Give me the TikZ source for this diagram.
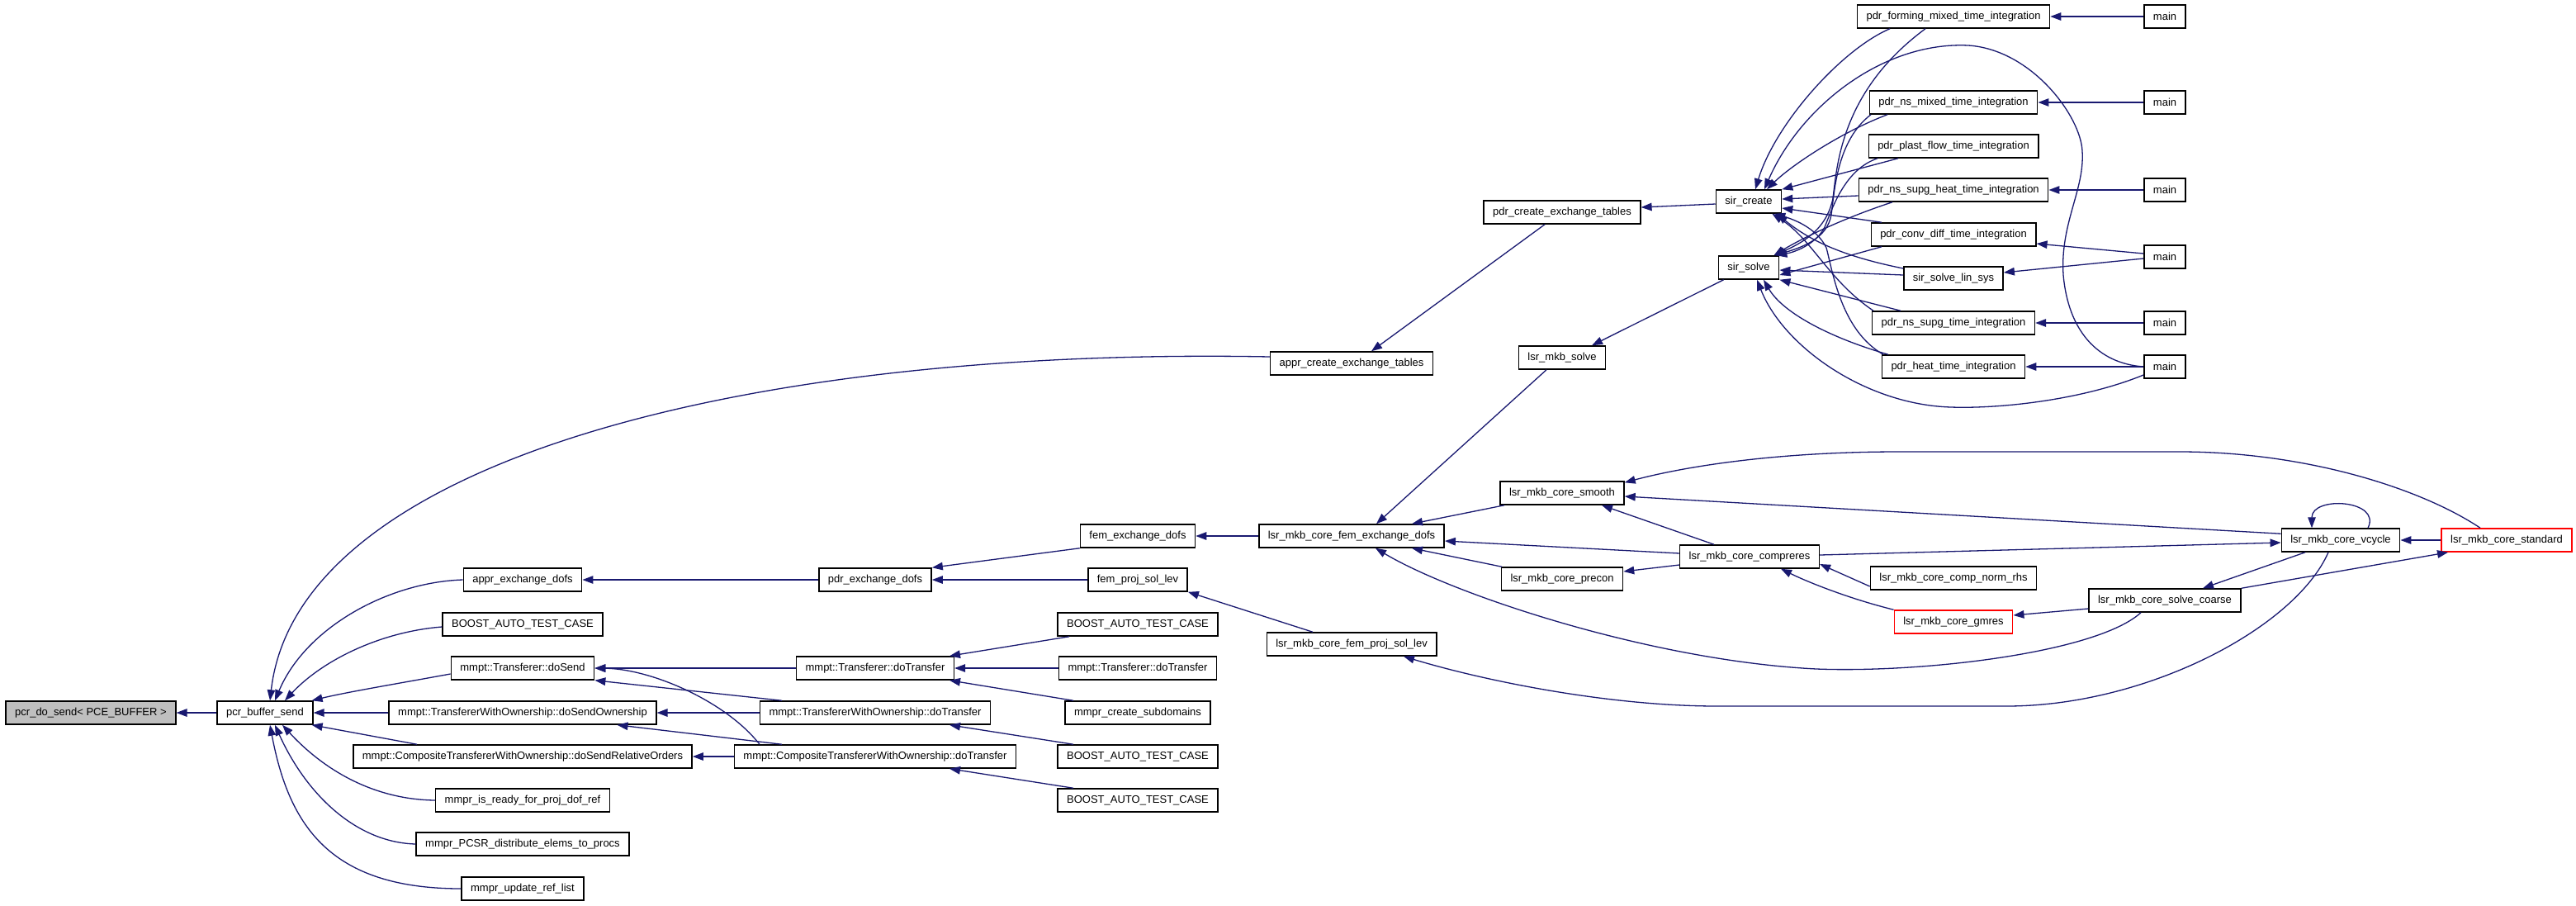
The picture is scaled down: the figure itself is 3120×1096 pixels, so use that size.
\documentclass[tikz,border=0pt]{standalone}
\usepackage{fontspec}
\setmainfont{Liberation Sans}
\usetikzlibrary{arrows.meta}

\definecolor{callblue}{HTML}{191970}
\definecolor{rootgrey}{HTML}{BFBFBF}

\begin{document}
\begin{tikzpicture}[x=1pt, y=-1pt,
        fn/.style={draw=black, fill=white, line width=1.5pt, inner xsep=11pt, inner ysep=0pt, minimum height=28pt, font=\fontsize{13pt}{15pt}\selectfont},
        fnroot/.style={fn, fill=rootgrey},
        fnred/.style={fn, draw=red},
        calls/.style={draw=callblue, line width=1.3pt, -{Triangle[length=13pt,width=9.5pt]}}]
        \path[fill=white] (0,0) rectangle (3120,1096);

        \node[fnroot] (root) at (110,863) {pcr\_do\_send< PCE\_BUFFER >};
        \node[fn] (bufsend) at (321,863) {pcr\_buffer\_send};

        \node[fn] (apprexch) at (633,702) {appr\_exchange\_dofs};
        \node[fn] (boosta) at (633,756) {BOOST\_AUTO\_TEST\_CASE};
        \node[fn] (dosend) at (633,809) {mmpt::Transferer::doSend};
        \node[fn] (dosendown) at (633,863) {mmpt::TransfererWithOwnership::doSendOwnership};
        \node[fn] (dosendrel) at (633,916) {mmpt::CompositeTransfererWithOwnership::doSendRelativeOrders};
        \node[fn] (isready) at (633,969) {mmpr\_is\_ready\_for\_proj\_dof\_ref};
        \node[fn] (pcsr) at (633,1022) {mmpr\_PCSR\_distribute\_elems\_to\_procs};
        \node[fn] (updref) at (633,1076) {mmpr\_update\_ref\_list};

        \node[fn] (pdrexch) at (1060,702) {pdr\_exchange\_dofs};
        \node[fn] (dotrans) at (1060,809) {mmpt::Transferer::doTransfer};
        \node[fn] (dotransown) at (1060,863) {mmpt::TransfererWithOwnership::doTransfer};
        \node[fn] (dotranscomp) at (1060,916) {mmpt::CompositeTransfererWithOwnership::doTransfer};

        \node[fn] (femexch) at (1378,649) {fem\_exchange\_dofs};
        \node[fn] (femproj) at (1378,702) {fem\_proj\_sol\_lev};
        \node[fn] (boostb) at (1378,756) {BOOST\_AUTO\_TEST\_CASE};
        \node[fn] (dotransb) at (1378,809) {mmpt::Transferer::doTransfer};
        \node[fn] (subdom) at (1378,863) {mmpr\_create\_subdomains};
        \node[fn] (boostc) at (1378,916) {BOOST\_AUTO\_TEST\_CASE};
        \node[fn] (boostd) at (1378,969) {BOOST\_AUTO\_TEST\_CASE};

        \node[fn] (apprtab) at (1637,440) {appr\_create\_exchange\_tables};
        \node[fn] (lsrexch) at (1637,649) {lsr\_mkb\_core\_fem\_exchange\_dofs};
        \node[fn] (lsrproj) at (1637,780) {lsr\_mkb\_core\_fem\_proj\_sol\_lev};

        \node[fn] (pdrtab) at (1892,257) {pdr\_create\_exchange\_tables};
        \node[fn] (lsrsolve) at (1892,433) {lsr\_mkb\_solve};
        \node[fn] (smooth) at (1892,597) {lsr\_mkb\_core\_smooth};
        \node[fn] (precon) at (1892,701) {lsr\_mkb\_core\_precon};

        \node[fn] (sircreate) at (2118,244) {sir\_create};
        \node[fn] (sirsolve) at (2118,324) {sir\_solve};
        \node[fn] (compreres) at (2119,674) {lsr\_mkb\_core\_compreres};

        \node[fn] (forming) at (2366,20) {pdr\_forming\_mixed\_time\_integration};
        \node[fn] (nsmixed) at (2366,124) {pdr\_ns\_mixed\_time\_integration};
        \node[fn] (plast) at (2366,177) {pdr\_plast\_flow\_time\_integration};
        \node[fn] (nsheat) at (2366,230) {pdr\_ns\_supg\_heat\_time\_integration};
        \node[fn] (convdiff) at (2366,284) {pdr\_conv\_diff\_time\_integration};
        \node[fn] (linsys) at (2366,337) {sir\_solve\_lin\_sys};
        \node[fn] (nssupg) at (2366,391) {pdr\_ns\_supg\_time\_integration};
        \node[fn] (heat) at (2366,444) {pdr\_heat\_time\_integration};
        \node[fn] (normrhs) at (2366,700) {lsr\_mkb\_core\_comp\_norm\_rhs};
        \node[fnred] (gmres) at (2366,753) {lsr\_mkb\_core\_gmres};

        \node[fn] (maina) at (2622,20) {main};
        \node[fn] (mainb) at (2622,124) {main};
        \node[fn] (mainc) at (2622,230) {main};
        \node[fn] (maind) at (2622,311) {main};
        \node[fn] (maine) at (2622,391) {main};
        \node[fn] (mainf) at (2622,444) {main};
        \node[fn] (coarse) at (2622,727) {lsr\_mkb\_core\_solve\_coarse};

        \node[fn] (vcycle) at (2835,654) {lsr\_mkb\_core\_vcycle};
        \node[fnred] (standard) at (3036,654) {lsr\_mkb\_core\_standard};

        \draw[calls] (bufsend) -- (root);
        \draw[calls] ([yshift=8pt]apprtab.west) .. controls (900,420) and (360,560) .. ([xshift=6pt]bufsend.north);
        \draw[calls] (apprexch.west) .. controls (470,705) and (370,760) .. ([xshift=12pt]bufsend.north);
        \draw[calls] ([yshift=-3pt]boosta.west) .. controls (460,765) and (390,800) .. ([xshift=24pt]bufsend.north);
        \draw[calls] ([yshift=-7pt]dosend.west) .. controls (480,828) and (420,838) .. ([xshift=-2pt]bufsend.north east);
        \draw[calls] (dosendown) -- (bufsend);
        \draw[calls] ([xshift=-128pt]dosendrel.north) -- ([xshift=-2pt]bufsend.south east);
        \draw[calls] (isready.west) .. controls (450,968) and (390,930) .. ([xshift=21pt]bufsend.south);
        \draw[calls] (pcsr.west) .. controls (430,1020) and (370,960) .. ([xshift=12pt]bufsend.south);
        \draw[calls] (updref.west) .. controls (400,1076) and (350,1000) .. ([xshift=6pt]bufsend.south);

        \draw[calls] (pdrexch) -- (apprexch);
        \draw[calls] (femexch.south west) -- (pdrexch.north east);
        \draw[calls] (femproj) -- (pdrexch);
        \draw[calls] (lsrexch) -- (femexch);
        \draw[calls] ([xshift=-47pt]lsrproj.north) -- (femproj.south east);

        \draw[calls] (dotrans) -- (dosend);
        \draw[calls] ([xshift=-113pt]dotransown.north) -- (dosend.south east);
        \draw[calls] (dotransown) -- (dosendown);
        \draw[calls] ([xshift=-113pt]dotranscomp.north) -- ([xshift=-48pt]dosendown.south east);
        \draw[calls] ([xshift=-140pt]dotranscomp.north) .. controls (880,850) and (790,810) .. (dosend.east);
        \draw[calls] (dotranscomp) -- (dosendrel);
        \draw[calls] ([xshift=-83pt]boostb.south) -- ([xshift=90pt]dotrans.north);
        \draw[calls] (dotransb) -- (dotrans);
        \draw[calls] ([xshift=-78pt]subdom.north) -- ([xshift=90pt]dotrans.south);
        \draw[calls] ([xshift=-78pt]boostc.north) -- ([xshift=90pt]dotransown.south);
        \draw[calls] ([xshift=-78pt]boostd.north) -- ([xshift=90pt]dotranscomp.south);

        \draw[calls] ([xshift=-21pt]pdrtab.south) -- ([xshift=24pt]apprtab.north);
        \draw[calls] ([yshift=-3pt]sircreate.west) -- ([yshift=6pt]pdrtab.east);
        \draw[calls] ([xshift=7pt]sirsolve.south west) -- ([xshift=36pt]lsrsolve.north);
        \draw[calls] ([xshift=-19pt]lsrsolve.south) -- ([xshift=30pt]lsrexch.north);
        \draw[calls] ([xshift=-70pt]smooth.south) -- ([xshift=73pt]lsrexch.north);
        \draw[calls] ([xshift=-73pt]precon.north) -- ([xshift=73pt]lsrexch.south);
        \draw[calls] ([yshift=4pt]compreres.west) -- ([yshift=-6pt]lsrexch.east);
        \draw[calls] ([yshift=-10pt]compreres.west) -- ([yshift=9pt]precon.east);
        \draw[calls] ([xshift=-43pt]compreres.north) -- ([xshift=48pt]smooth.south);
        \draw[calls] ([yshift=2pt]compreres.east) -- ([yshift=-3pt]vcycle.west);
        \draw[calls] ([yshift=-10pt]normrhs.west) -- ([yshift=-9pt]compreres.east);
        \draw[calls] (gmres.north west) .. controls (2240,725) and (2190,705) .. ([xshift=38pt]compreres.south);
        \draw[calls] ([yshift=-10pt]coarse.west) -- ([yshift=8pt]gmres.east);
        \draw[calls] ([yshift=-7pt]vcycle.north west) -- ([yshift=-4pt]smooth.east);
        \draw[calls] ([xshift=-43pt]vcycle.south) -- ([xshift=46pt]coarse.north);
        \draw[calls] (coarse.north east) -- ([xshift=-71pt]standard.south);
        \draw[calls] (standard) -- (vcycle);
        \draw[calls] ([xshift=33pt]vcycle.north) .. controls (2885,605) and (2800,600) .. ([xshift=-35pt]vcycle.north);
        \draw[calls] ([xshift=-32pt]standard.north) .. controls (2930,590) and (2790,547) .. (2640,547) -- (2300,547) .. controls (2150,547) and (2040,565) .. ([yshift=-2pt]smooth.north east);
        \draw[calls] ([xshift=-15pt]vcycle.south) .. controls (2780,760) and (2600,855) .. (2430,855) -- (2080,855) .. controls (1950,855) and (1800,825) .. ([xshift=63pt]lsrproj.south);
        \draw[calls] ([xshift=-29pt]coarse.south) .. controls (2540,790) and (2330,815) .. (2200,810) .. controls (2000,800) and (1760,720) .. ([xshift=29pt]lsrexch.south);

        \draw[calls] (maina) -- (forming);
        \draw[calls] (mainb) -- (nsmixed);
        \draw[calls] (mainc) -- (nsheat);
        \draw[calls] ([yshift=4pt]maind.west) -- ([yshift=-11pt]convdiff.east);
        \draw[calls] ([yshift=-2pt]maind.west) -- ([yshift=7pt]linsys.east);
        \draw[calls] (maine) -- (nssupg);
        \draw[calls] (mainf) -- (heat);
        \draw[calls] (mainf.west) .. controls (2540,440) and (2505,400) .. (2499,333) .. controls (2495,270) and (2525,230) .. (2522,183) .. controls (2520,140) and (2460,60) .. (2384,55) .. controls (2280,50) and (2180,130) .. ([xshift=19pt]sircreate.north);
        \draw[calls] ([yshift=-10pt]mainf.west) .. controls (2520,485) and (2420,495) .. (2363,493) .. controls (2260,490) and (2160,420) .. ([xshift=10pt]sirsolve.south);

        \draw[calls] ([xshift=-77pt]forming.south) .. controls (2230,60) and (2150,150) .. ([xshift=8pt]sircreate.north);
        \draw[calls] ([xshift=-34pt]forming.south) .. controls (2230,110) and (2225,200) .. (2220,240) .. controls (2212,280) and (2180,295) .. ([xshift=-6pt]sirsolve.north east);
        \draw[calls] ([xshift=-80pt]nsmixed.south) .. controls (2230,160) and (2170,200) .. ([xshift=22pt]sircreate.north);
        \draw[calls] ([xshift=-100pt]nsmixed.south) .. controls (2225,170) and (2222,230) .. (2218,260) .. controls (2213,290) and (2180,300) .. ([xshift=-5pt]sirsolve.north east);
        \draw[calls] ([xshift=-67pt]plast.south) -- (sircreate.north east);
        \draw[calls] ([xshift=-92pt]plast.south) .. controls (2235,205) and (2220,250) .. (2210,275) .. controls (2200,295) and (2175,305) .. ([xshift=-4pt]sirsolve.north east);
        \draw[calls] ([yshift=-7pt]nsheat.west) -- ([yshift=3pt]sircreate.east);
        \draw[calls] ([xshift=-74pt]nsheat.south) .. controls (2230,265) and (2180,290) .. ([xshift=-7pt]sirsolve.north east);
        \draw[calls] ([xshift=-87pt]convdiff.north) -- ([yshift=-8pt]sircreate.east);
        \draw[calls] ([xshift=-87pt]convdiff.south) -- ([yshift=-9pt]sirsolve.east);
        \draw[calls] ([yshift=12pt]linsys.west) .. controls (2230,310) and (2190,290) .. ([xshift=-6pt]sircreate.south east);
        \draw[calls] ([yshift=4pt]linsys.west) -- ([yshift=-3pt]sirsolve.east);
        \draw[calls] ([xshift=-64pt]nssupg.north) -- (sirsolve.south east);
        \draw[calls] ([xshift=-97pt]nssupg.north) .. controls (2215,340) and (2195,290) .. ([xshift=-12pt]sircreate.south east);
        \draw[calls] ([xshift=-79pt]heat.north) .. controls (2220,410) and (2160,380) .. ([xshift=18pt]sirsolve.south);
        \draw[calls] ([xshift=-85pt]heat.north) .. controls (2230,400) and (2220,330) .. (2212,300) .. controls (2200,275) and (2170,265) .. ([xshift=-9pt]sircreate.south east);
    \end{tikzpicture}
\end{document}
